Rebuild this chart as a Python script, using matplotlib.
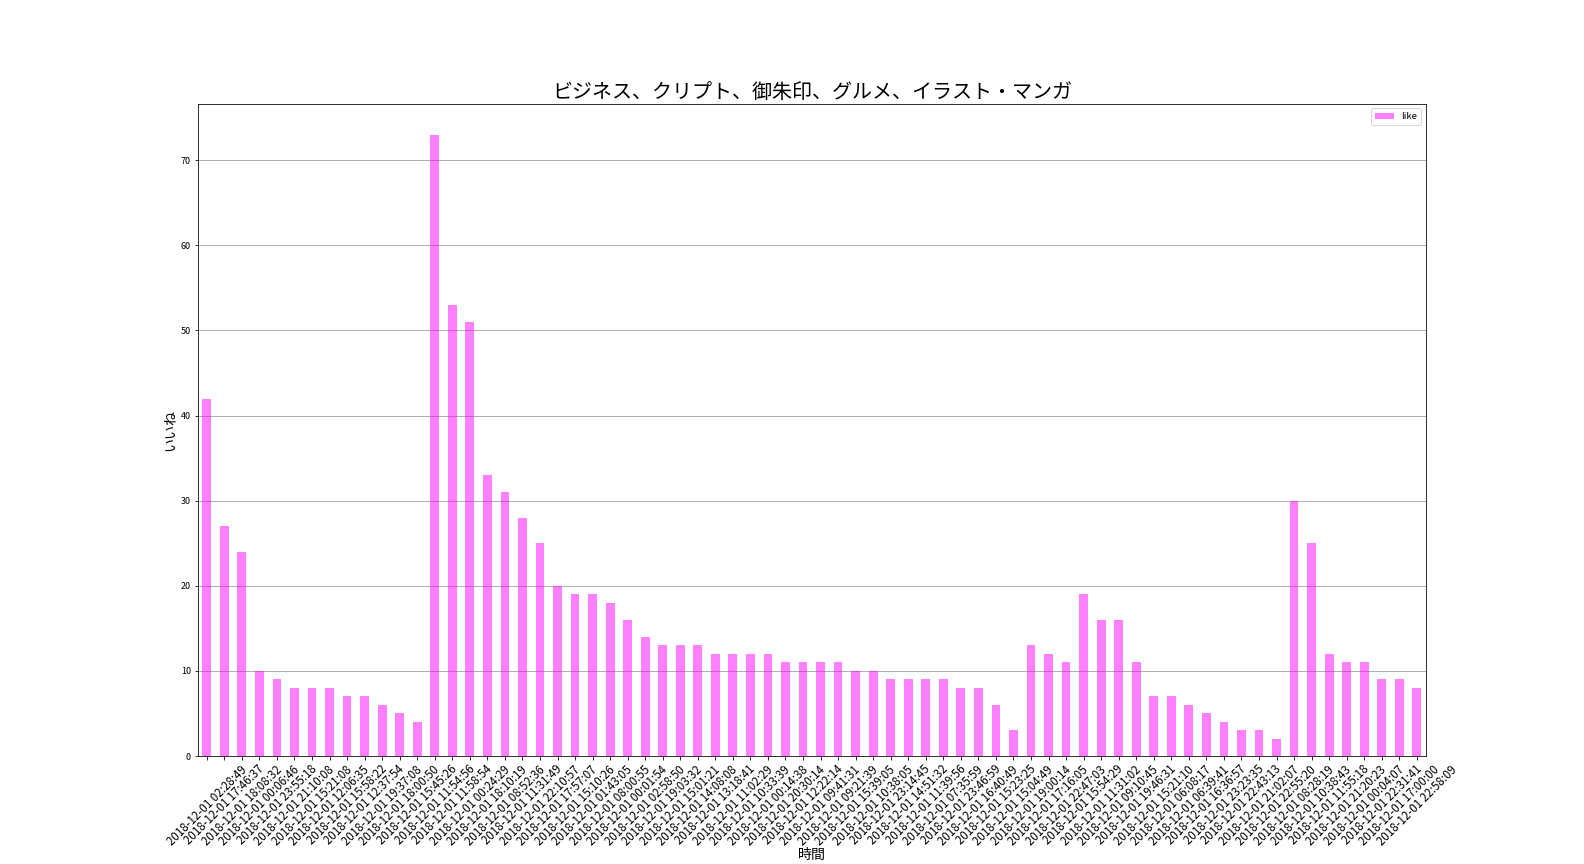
import matplotlib
matplotlib.use("Agg")
import matplotlib.pyplot as plt
import numpy as np

plt.rcParams['font.family'] = ['Noto Sans CJK JP', 'DejaVu Sans']

times = [
    "02:28:49", "17:46:37", "18:08:32", "00:06:46", "23:55:18", "21:10:08",
    "15:21:08", "12:06:35", "15:58:22", "12:37:54", "19:37:08", "18:00:50",
    "15:45:26", "11:54:56", "11:58:54", "00:24:29", "18:10:19", "08:52:36",
    "11:31:49", "22:10:57", "17:57:07", "15:10:26", "01:43:05", "08:00:55",
    "00:01:54", "02:58:50", "19:03:32", "15:01:21", "14:08:08", "13:18:41",
    "11:02:29", "10:33:39", "00:14:38", "20:30:14", "12:22:14", "09:41:31",
    "09:21:39", "15:39:05", "10:38:05", "23:14:45", "14:51:32", "11:39:56",
    "07:35:59", "23:46:59", "16:40:49", "15:23:25", "15:04:49", "19:00:14",
    "17:16:05", "22:47:03", "15:54:29", "11:31:02", "09:10:45", "19:46:31",
    "15:21:10", "06:08:17", "06:39:41", "16:36:57", "23:23:35", "22:43:13",
    "21:02:07", "22:55:20", "08:28:19", "10:38:43", "11:55:18", "21:20:23",
    "00:04:07", "22:31:41", "17:00:00", "22:58:09",
]
labels = ["2018-12-01 " + t for t in times]
likes = [
    42, 27, 24, 10, 9, 8, 8, 8, 7, 7, 6, 5, 4, 73, 53, 51, 33, 31, 28, 25,
    20, 19, 19, 18, 16, 14, 13, 13, 13, 12, 12, 12, 12, 11, 11, 11, 11, 10,
    10, 9, 9, 9, 9, 8, 8, 6, 3, 13, 12, 11, 19, 16, 16, 11, 7, 7, 6, 5, 4,
    3, 3, 2, 30, 25, 12, 11, 11, 9, 9, 8,
]

fig, ax = plt.subplots(figsize=(22, 12), dpi=72)
fig.subplots_adjust(left=0.125, right=0.9, top=0.88, bottom=0.125)

x = np.arange(len(likes))
ax.bar(x, likes, width=0.5, color='magenta', alpha=0.5, label='like', zorder=2)
ax.set_xlim(-0.5, len(likes) - 0.5)
ax.set_xticks(x)
ax.set_xticklabels(labels, rotation=45, fontsize=11.5)
ax.tick_params(axis='y', labelsize=9)
ax.yaxis.grid(True, color='#b0b0b0', linewidth=1, zorder=0)
ax.set_axisbelow(True)

ax.set_title('ビジネス、クリプト、御朱印、グルメ、イラスト・マンガ', fontsize=20)
ax.set_xlabel('時間', fontsize=14, labelpad=0)
ax.set_ylabel('いいね', fontsize=14)
ax.legend(loc='upper right', fontsize=9.5)

plt.savefig('out.png', dpi=72)
